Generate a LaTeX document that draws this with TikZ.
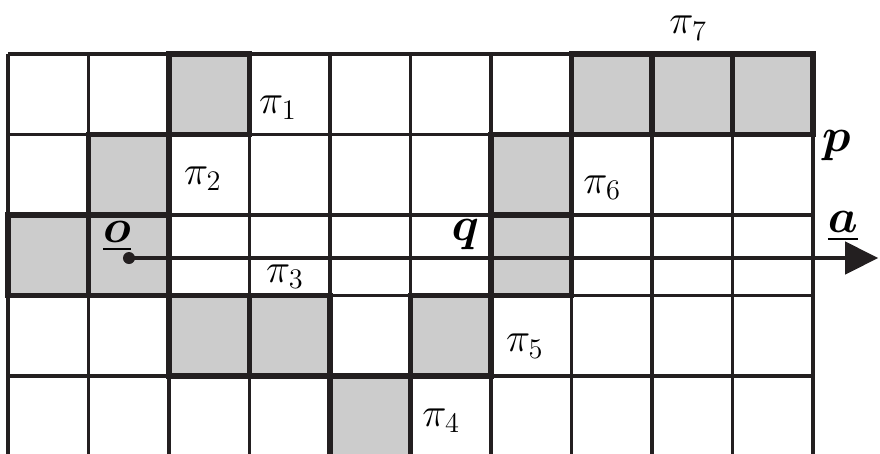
\documentclass[tikz,border=0pt]{standalone}
\usepackage{tikz}
\usetikzlibrary{arrows.meta}
\usepackage{amsmath}
\definecolor{ink}{RGB}{35,31,32}
\definecolor{cellgray}{RGB}{204,204,204}

\begin{document}
\begin{tikzpicture}[
  x=1.61cm, y=1.61cm,
  gridline/.style={draw=ink, line width=2pt},
  cellborder/.style={draw=ink, line width=3.2pt},
  lbl/.style={font=\huge, scale=1.12, inner sep=0pt},
  pt/.style={font=\huge\boldmath, scale=1.3, inner sep=0pt},
  dot/.style={circle, fill=ink, inner sep=0pt, minimum size=0.24cm}
]
\useasboundingbox (-0.0994,-4.957) rectangle (10.832,0.671);

% shaded cells
\foreach \c/\r in {2/0, 7/0, 8/0, 9/0, 1/1, 6/1, 0/2, 1/2, 6/2, 2/3, 3/3, 5/3, 4/4}
  \fill[cellgray] (\c,-\r) rectangle ++(1,-1);

% grid
\foreach \r in {0,...,4}
  \draw[gridline] (0,-\r) -- (10,-\r);
\foreach \c in {0,...,10}
  \draw[gridline] (\c,0) -- (\c,-5);

% borders of the shaded cells
\foreach \c/\r in {2/0, 7/0, 8/0, 9/0, 1/1, 6/1, 0/2, 1/2, 6/2, 2/3, 3/3, 5/3, 4/4}
  \draw[cellborder] (\c,-\r) rectangle ++(1,-1);

% labels of the paths
\node[lbl] (pi1) at (3.354,-0.671) {$\pi_1$};
\node[lbl] (pi2) at (2.42,-1.55) {$\pi_2$};
\node[lbl] (pi3) at (3.44,-2.77) {$\pi_3$};
\node[lbl] (pi4) at (5.38,-4.56) {$\pi_4$};
\node[lbl] (pi5) at (6.42,-3.63) {$\pi_5$};
\node[lbl] (pi6) at (7.38,-1.66) {$\pi_6$};
\node[lbl] (pi7) at (8.45,0.32) {$\pi_7$};

% points
\node[pt] (p) at (10.29,-1.14) {$p$};
\node[pt] (q) at (5.68,-2.24) {$q$};
\node[pt] (olbl) at (1.354,-2.27) {$\underline{o}$};
\node[pt] (albl) at (10.37,-2.14) {$\underline{a}$};

% ray from o
\node[dot] (o) at (1.503,-2.534) {};
\coordinate (tip) at (10.81,-2.534);
\draw[-{Triangle[length=0.66cm, width=0.64cm]}, draw=ink, fill=ink, line width=2.4pt] (o.center) -- (tip);
\end{tikzpicture}
\end{document}
